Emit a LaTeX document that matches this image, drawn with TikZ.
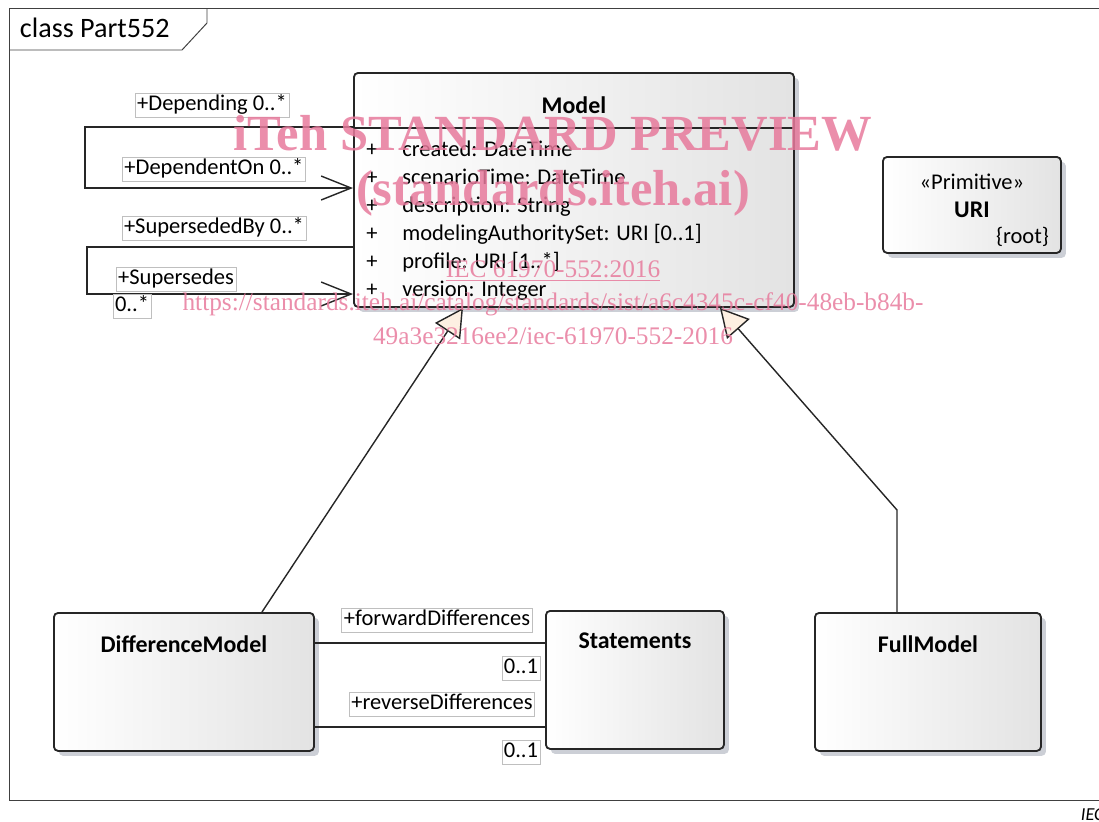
\documentclass[tikz,border=0pt]{standalone}
\usepackage{fontspec}
\setmainfont{Carlito}
\newfontfamily\wmfont{Liberation Serif}
\usetikzlibrary{positioning,calc,arrows.meta,shadows}
\definecolor{wmpink}{RGB}{231,122,156}
\definecolor{umlshadow}{RGB}{204,207,214}
\definecolor{genfill}{RGB}{253,240,226}
\tikzset{
  frameline/.style={draw=black!75, line width=0.7pt},
  classbox/.style={draw=black!85, line width=1.3pt, rounded corners=3pt, anchor=north west,
    left color=white, right color=black!11,
    drop shadow={shadow xshift=3.5pt, shadow yshift=-3.5pt, fill=umlshadow, opacity=1}},
  classname/.style={font=\fontsize{17}{20}\selectfont\bfseries},
  attrtext/.style={inner sep=0pt, text height=11pt, text depth=3pt},
  assoc/.style={draw=black!85, line width=1pt},
  gen/.style={assoc, -{Triangle[length=0.7cm, width=0.75cm, fill=genfill]}},
  selfassoc/.style={assoc, -{Straight Barb[length=0.75cm, width=0.6cm]}},
  rolebox/.style={draw=black!25, line width=0.4pt, fill=white, inner sep=1.5pt,
    text height=11pt, text depth=3pt},
  wmark/.style={text=wmpink, opacity=0.85}
}
\begin{document}
\begin{tikzpicture}[x=0.025cm,y=-0.025cm,font=\fontsize{16}{19}\selectfont]
\useasboundingbox (0,0) rectangle (1099,822);
\clip (0,0) rectangle (1099,822);
\draw[frameline] (1099,8) -- (9,8) -- (9,800) -- (1099,800);
\draw[frameline] (9,50) -- (182,50) -- (207,23) -- (207,8);
\node[font=\fontsize{20}{24}\selectfont, anchor=west] (title) at (15,28) {class Part552};

\node[classbox, minimum width=11cm, minimum height=5.85cm] (model) at (353,72) {};
\draw[draw=black!85, line width=1.3pt] ($(model.north west)+(0,56)$) -- ($(model.north east)+(0,56)$);
\node[classname] (modelname) at ($(model.north)+(0,33)$) {Model};
\def\fields{{created: DateTime},{scenarioTime: DateTime},{description: String},{modelingAuthoritySet: URI [0..1]},{profile: URI [1..*]},{version: Integer}}
\foreach \field [count=\i] in \fields
{
	\node[attrtext] (plus\i) at (372,123+28*\i) {+};
	\node[attrtext, anchor=west] (field\i) at (402,123+28*\i) {\field};
}

\node[classbox, minimum width=4.45cm, minimum height=2.4cm] (uri) at (882,156) {};
\node (uristereo) at ($(uri.north)+(0,26)$) {«Primitive»};
\node[classname] (uriname) at ($(uri.north)+(0,54)$) {URI};
\node[anchor=east] (uriroot) at ($(uri.north east)+(-8,81)$) {\{root\}};

\node[classbox, minimum width=6.5cm, minimum height=3.45cm] (diffmodel) at (53,612) {};
\node[classname] (diffname) at ($(diffmodel.north)+(0,32)$) {DifferenceModel};
\node[classbox, minimum width=4.45cm, minimum height=3.45cm] (stmts) at (545,610) {};
\node[classname] (stmtsname) at ($(stmts.north)+(0,31)$) {Statements};
\node[classbox, minimum width=5.65cm, minimum height=3.45cm] (fullmodel) at (814,612) {};
\node[classname] (fullname) at ($(fullmodel.north)+(0,32)$) {FullModel};

\coordinate (dep1) at ($(model.north west)+(0,55)$);
\coordinate (dep2) at ($(model.north west)+(0,116)$);
\coordinate (sup1) at ($(model.north west)+(0,175)$);
\coordinate (sup2) at ($(model.north west)+(0,222)$);
\draw[selfassoc] (dep1) -- ++(-268,0) |- (dep2);
\draw[selfassoc] (sup1) -- ++(-266,0) |- (sup2);

\draw[gen] ($(diffmodel.north west)+(209,0)$) -- ($(model.south west)+(110,0)$);
\draw[gen] ($(fullmodel.north west)+(83,0)$) -- ++(0,-102) -- ($(model.south east)+(-75,0)$);

\draw[assoc] ($(diffmodel.north east)+(0,31)$) -- ($(stmts.north west)+(0,33)$);
\draw[assoc] ($(diffmodel.north east)+(0,115)$) -- ($(stmts.north west)+(0,117)$);

\node[rolebox] (depending) at (212,105) {+Depending 0..*};
\node[rolebox] (dependenton) at (214,169) {+DependentOn 0..*};
\node[rolebox] (supersededby) at (214,228) {+SupersededBy 0..*};
\node[rolebox] (supersedes) at (176,279) {+Supersedes};
\node[rolebox] (supmult) at (132,306) {0..*};
\node[rolebox] (fwd) at (437,620) {+forwardDifferences};
\node[rolebox] (fwdmult) at (521,668) {0..1};
\node[rolebox] (rev) at (442,704) {+reverseDifferences};
\node[rolebox] (revmult) at (521,752) {0..1};

\node[font=\itshape\fontsize{13}{15}\selectfont, anchor=west] (iec) at (1076,815) {IEC};

\node[wmark, font=\wmfont\bfseries\fontsize{36}{40}\selectfont] (wm1) at (553,133) {iTeh STANDARD PREVIEW};
\node[wmark, font=\wmfont\bfseries\fontsize{36}{40}\selectfont] (wm2) at (553,193) {(standards.iteh.ai)};
\node[wmark, font=\wmfont\fontsize{18}{20}\selectfont] (wm3) at (553,271) {\underline{IEC 61970-552:2016}};
\node[wmark, font=\wmfont\fontsize{18}{20}\selectfont] (wm4) at (553,304) {https://standards.iteh.ai/catalog/standards/sist/a6c4345c-cf40-48eb-b84b-};
\node[wmark, font=\wmfont\fontsize{18}{20}\selectfont] (wm5) at (553,336) {49a3e3216ee2/iec-61970-552-2016};
\end{tikzpicture}
\end{document}
